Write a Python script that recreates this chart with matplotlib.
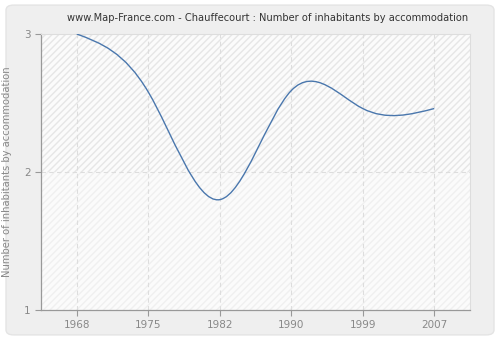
import numpy as np
import matplotlib
matplotlib.use("Agg")
import matplotlib.pyplot as plt
from matplotlib.path import Path
from matplotlib.patches import PathPatch, FancyBboxPatch

years = ["1968", "1975", "1982", "1990", "1999", "2007"]
values = [3.0, 2.58, 1.80, 2.59, 2.46, 2.46]
yticks = [1, 2, 3]


def spline_path(xs, ys):
    # natural cubic spline through the points, written as bezier segments
    n = len(xs)
    h = np.diff(xs)
    A = np.zeros((n, n))
    r = np.zeros(n)
    A[0, 0] = A[-1, -1] = 1
    for i in range(1, n - 1):
        A[i, i - 1] = h[i - 1]
        A[i, i] = 2 * (h[i - 1] + h[i])
        A[i, i + 1] = h[i]
        r[i] = 3 * ((ys[i + 1] - ys[i]) / h[i] - (ys[i] - ys[i - 1]) / h[i - 1])
    c = np.linalg.solve(A, r)
    verts = [(xs[0], ys[0])]
    codes = [Path.MOVETO]
    for i in range(n - 1):
        b = (ys[i + 1] - ys[i]) / h[i] - h[i] * (2 * c[i] + c[i + 1]) / 3
        d1 = b
        d2 = b + 2 * c[i] * h[i] + (c[i + 1] - c[i]) * h[i]
        verts += [(xs[i] + h[i] / 3, ys[i] + d1 * h[i] / 3),
                  (xs[i + 1] - h[i] / 3, ys[i + 1] - d2 * h[i] / 3),
                  (xs[i + 1], ys[i + 1])]
        codes += [Path.CURVE4] * 3
    return Path(verts, codes)


fig = plt.figure(figsize=(5, 3.4), dpi=100)
fig.patch.set_facecolor("white")
fig.patches.append(FancyBboxPatch((0.012, 0.015), 0.976, 0.97,
                                  boxstyle="round,pad=0,rounding_size=0.015",
                                  transform=fig.transFigure, facecolor="#efefef",
                                  edgecolor="#e4e4e4", linewidth=1, zorder=-1))

ax = fig.add_axes([0.082, 0.088, 0.858, 0.812])
ax.set_facecolor("#fbfbfb")
x = np.arange(len(years), dtype=float)
ax.set_xlim(-0.5, 5.5)
ax.set_ylim(1, 3)

# light diagonal hatching, stronger in the upper band
ax.axhspan(2, 3, facecolor="none", edgecolor="#e6e6e6", hatch="/////", linewidth=0)
ax.axhspan(1, 2, facecolor="none", edgecolor="#f0f0f0", hatch="/////", linewidth=0)

for xi in x:
    ax.axvline(xi, color="#dddddd", linestyle=(0, (4, 3)), linewidth=0.8, zorder=1)
ax.axhline(2, color="#dddddd", linestyle=(0, (4, 3)), linewidth=0.8, zorder=1)

ax.add_patch(PathPatch(spline_path(x, np.array(values)), facecolor="none",
                       edgecolor="#4a77ad", linewidth=1.0, zorder=3))

ax.set_xticks(x)
ax.set_xticklabels(years)
ax.set_yticks(yticks)
ax.tick_params(colors="#999999", labelcolor="#888888", labelsize=7.5, length=4, width=0.8)
for s in ["left", "bottom"]:
    ax.spines[s].set_color("#999999")
    ax.spines[s].set_linewidth(0.9)
for s in ["top", "right"]:
    ax.spines[s].set_color("#dddddd")
    ax.spines[s].set_linewidth(0.8)

ax.set_ylabel("Number of inhabitants by accommodation", color="#888888", fontsize=7.2)
ax.yaxis.set_label_coords(-0.068, 0.5)
fig.text(0.535, 0.947, "www.Map-France.com - Chauffecourt : Number of inhabitants by accommodation",
         ha="center", va="center", fontsize=7.1, color="#333333")

fig.savefig("out.png", dpi=100, facecolor=fig.get_facecolor())
